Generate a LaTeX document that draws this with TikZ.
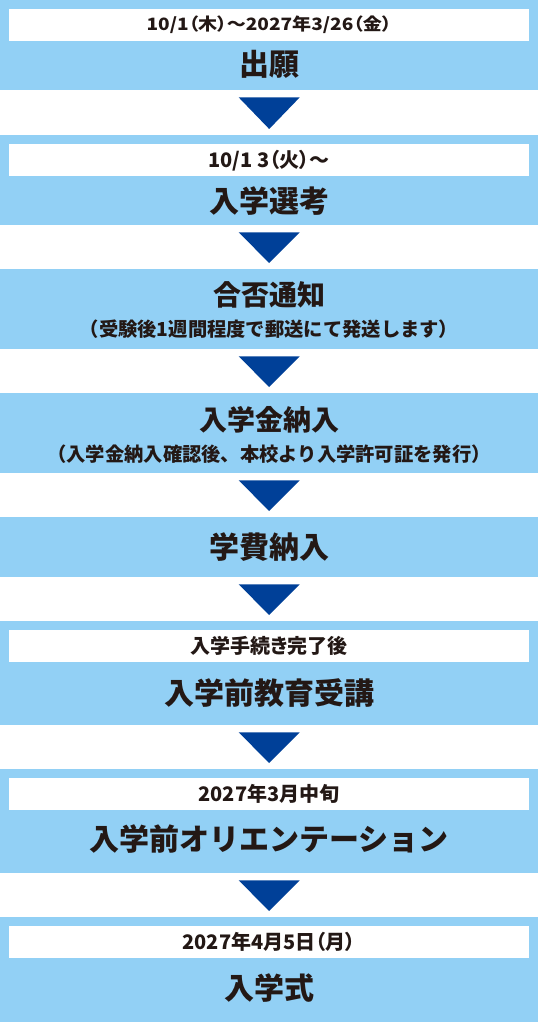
\documentclass[tikz,border=0pt]{standalone}
\usepackage{fontspec}
\usetikzlibrary{calc}
\newfontfamily\jp{Noto Sans CJK JP}
\newfontfamily\jpp{Noto Sans CJK JP}[RawFeature=+palt]
\newfontfamily\jpw{Noto Sans CJK JP}[RawFeature=+palt, FakeStretch=1.12]
\definecolor{boxblue}{HTML}{92D0F5}
\definecolor{arrowblue}{HTML}{004098}
\definecolor{inkcol}{HTML}{231815}
\tikzset{
  flowbox/.style={rectangle, fill=boxblue, draw=none, minimum width=538pt, inner sep=0pt, anchor=north west},
  datebar/.style={rectangle, fill=white, draw=none, minimum width=520pt, minimum height=32pt, inner sep=0pt, anchor=north, text=inkcol},
  datefont/.style={font=\jpp\bfseries\fontsize{20}{22}\selectfont},
  smalldate/.style={font=\jpw\bfseries\fontsize{17}{19}\selectfont},
  titletext/.style={inner sep=0pt, text=inkcol, font=\jp\bfseries\fontsize{30}{32}\selectfont},
  titlesmall/.style={inner sep=0pt, text=inkcol, font=\jp\bfseries\fontsize{28}{30}\selectfont},
  subtext/.style={inner sep=0pt, text=inkcol, font=\jp\bfseries\fontsize{19.3}{21}\selectfont},
  tri/.style={fill=arrowblue, draw=none}
}
\newcommand\flowtri[2]{\fill[tri] ($(#1.south)+(-30.5,7)$) -- ($(#1.south)+(30.5,7)$) -- ($(#2.north)+(0,-6)$) -- cycle;}
\begin{document}
\begin{tikzpicture}[x=1pt,y=-1pt]
\useasboundingbox (0,0) rectangle (538,1022);
% boxes
\node[flowbox, minimum height=90pt] (b1) at (0,0) {};
\node[flowbox, minimum height=90pt] (b2) at (0,135) {};
\node[flowbox, minimum height=80pt] (b3) at (0,269) {};
\node[flowbox, minimum height=80pt] (b4) at (0,393) {};
\node[flowbox, minimum height=60pt] (b5) at (0,517) {};
\node[flowbox, minimum height=104pt] (b6) at (0,621) {};
\node[flowbox, minimum height=104pt] (b7) at (0,769) {};
\node[flowbox, minimum height=105pt] (b8) at (0,917) {};
% date bars
\node[datebar, smalldate] (d1) at (269,9) {10/1（木）～2027年3/26（金）};
\node[datebar, datefont] (d2) at (269,144) {10/1 3（火）～};
\node[datebar, datefont] (d6) at (269,630) {入学手続き完了後};
\node[datebar, datefont] (d7) at (269,778) {2027年3月中旬};
\node[datebar, datefont] (d8) at (269,926) {2027年4月5日（月）};
% titles
\node[titletext] (t1) at (269,64) {出願};
\node[titletext] (t2) at (269,201) {入学選考};
\node[titlesmall] (t3) at (269,295) {合否通知};
\node[subtext] (s3) at (269,329) {（受験後1週間程度で郵送にて発送します）};
\node[titlesmall] (t4) at (269,420) {入学金納入};
\node[subtext] (s4) at (269,454) {（入学金納入確認後、本校より入学許可証を発行）};
\node[titletext] (t5) at (269,547) {学費納入};
\node[titletext] (t6) at (269,693) {入学前教育受講};
\node[titletext] (t7) at (269,839) {入学前オリエンテーション};
\node[titletext] (t8) at (269,988) {入学式};
% arrows
\flowtri{b1}{b2}
\flowtri{b2}{b3}
\flowtri{b3}{b4}
\flowtri{b4}{b5}
\flowtri{b5}{b6}
\flowtri{b6}{b7}
\flowtri{b7}{b8}
\end{tikzpicture}
\end{document}
